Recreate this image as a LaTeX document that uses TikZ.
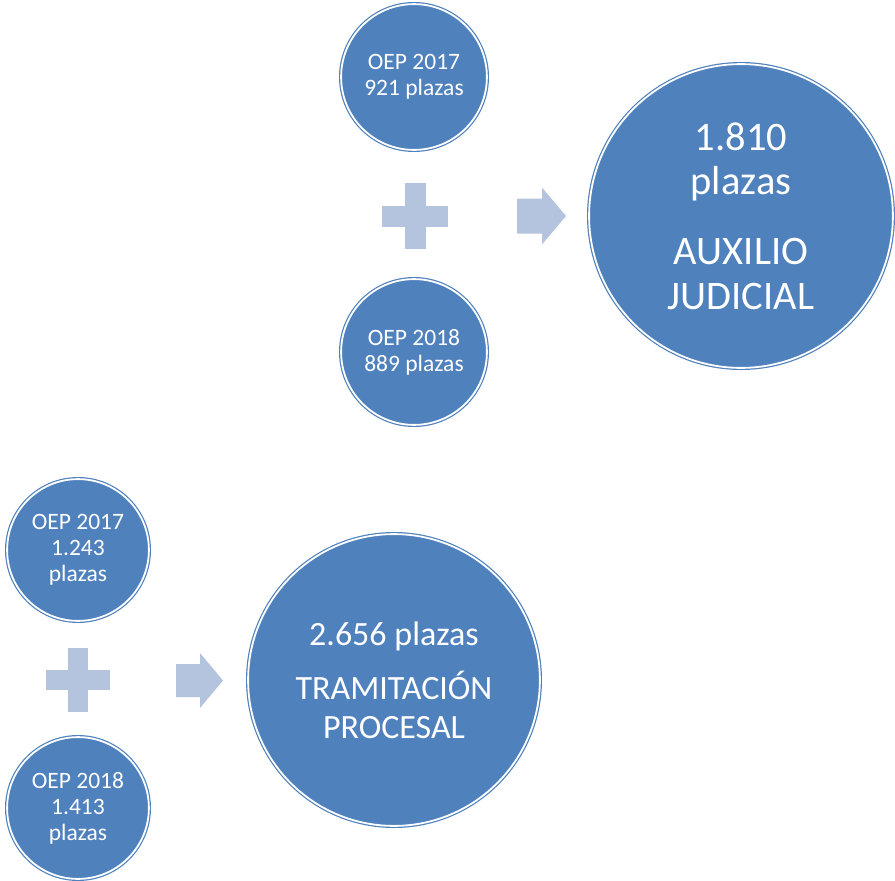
\documentclass[tikz,border=0pt]{standalone}
\usepackage{fontspec}
\setmainfont{Carlito}
\usetikzlibrary{positioning}
\definecolor{circblue}{HTML}{4F81BD}
\definecolor{signblue}{HTML}{B4C3DE}

\begin{document}
\begin{tikzpicture}[x=1pt, y=-1pt, font=\fontsize{23.5}{26}\selectfont,
    oep/.style={circle, fill=circblue, draw=circblue, double=white, double distance=1.8pt, line width=1.2pt, text=white, align=center, inner sep=0pt},
    sign/.style={fill=signblue}]
    \useasboundingbox (0,0) rectangle (895,881);

    % Auxilio judicial
    \node[oep, minimum size=145.8pt] (aux17) at (414,77) {OEP 2017\\921 plazas};
    \node[oep, minimum size=145.8pt] (aux18) at (414,352) {OEP 2018\\889 plazas};
    \node[oep, minimum size=303.8pt, font=\fontsize{40.5}{44.5}\selectfont] (auxtot) at (741,216) {1.810\\plazas\\[25.5pt]AUXILIO\\JUDICIAL};
    \coordinate (auxplus) at (415,216);
    \coordinate (auxarrow) at (542,216);

    % Tramitacion procesal
    \node[oep, minimum size=141.8pt] (tra17) at (78,550) {OEP 2017\\1.243\\plazas};
    \node[oep, minimum size=141.8pt] (tra18) at (78,808) {OEP 2018\\1.413\\plazas};
    \node[oep, minimum size=291.8pt, font=\fontsize{34}{39}\selectfont] (tratot) at (394,680) {2.656 plazas\\[15pt]TRAMITACIÓN\\PROCESAL};
    \coordinate (traplus) at (78,680);
    \coordinate (traarrow) at (200,680.5);

    % Plus signs
    \fill[sign] (auxplus) ++(-33,-10.5) rectangle ++(66,21);
    \fill[sign] (auxplus) ++(-10.5,-33) rectangle ++(21,66);
    \fill[sign] (traplus) ++(-32,-10) rectangle ++(64,20);
    \fill[sign] (traplus) ++(-10,-32) rectangle ++(20,64);

    % Arrows
    \fill[sign] (auxarrow) ++(-25,-17.5) -- ++(25,0) -- ++(0,-11) -- ++(24,28.5) -- ++(-24,28.5) -- ++(0,-11) -- ++(-25,0) -- cycle;
    \fill[sign] (traarrow) ++(-24,-16.5) -- ++(24,0) -- ++(0,-11) -- ++(23,27.5) -- ++(-23,27.5) -- ++(0,-11) -- ++(-24,0) -- cycle;
\end{tikzpicture}
\end{document}
